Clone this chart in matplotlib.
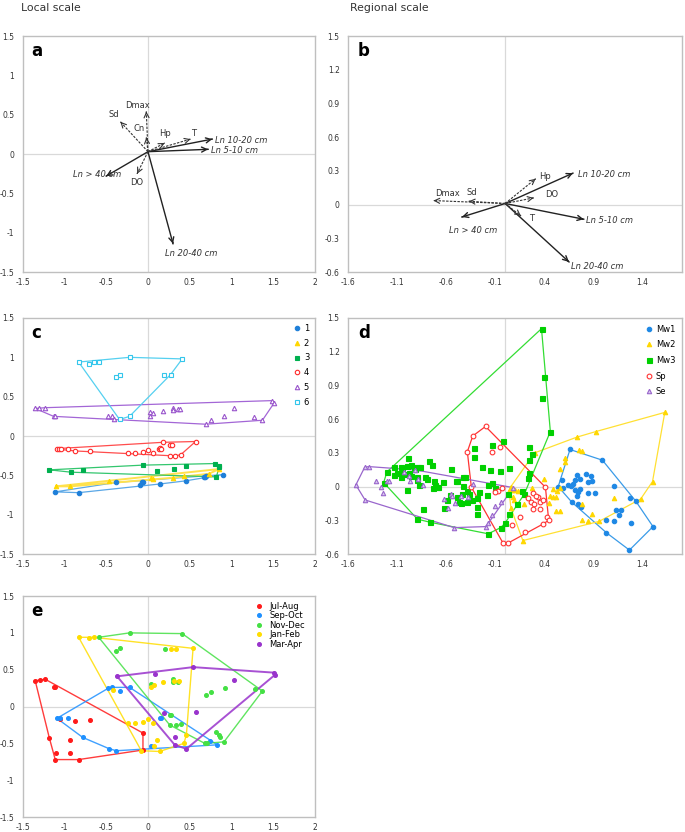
import numpy as np
import matplotlib
matplotlib.use('Agg')
import matplotlib.pyplot as plt

# ---- panel a: local scale loadings ----
a_names = ['Ln 10-20 cm', 'Ln 5-10 cm', 'Ln 20-40 cm', 'Ln > 40 cm', 'Dmax', 'Sd', 'Cn', 'Hp', 'T', 'DO']
a_x = [0.77, 0.72, 0.30, -0.50, -0.02, -0.33, -0.02, 0.20, 0.51, -0.13]
a_y = [0.19, 0.06, -1.14, -0.28, 0.54, 0.41, 0.21, 0.14, 0.19, -0.25]
a_dashed = [False, False, False, False, True, True, True, True, True, True]

# ---- panel b: regional scale loadings ----
b_names = ['Ln 10-20 cm', 'Ln 5-10 cm', 'Ln 20-40 cm', 'Ln > 40 cm', 'Hp', 'DO', 'T', 'Dmax', 'Sd']
b_x = [0.69, 0.80, 0.65, -0.44, 0.31, 0.29, 0.16, -0.73, -0.37]
b_y = [0.28, -0.13, -0.51, -0.11, 0.23, 0.06, -0.10, 0.036, 0.03]
b_dashed = [False, False, False, False, True, True, True, True, True]

# ---- panel c: sites 1-6 ----
c_labels = ['1', '2', '3', '4', '5', '6']
c1 = [(-1.11, -0.71), (-0.83, -0.72), (-0.38, -0.59), (-0.10, -0.62), (-0.07, -0.59), (-0.06, -0.58),
      (0.14, -0.61), (0.45, -0.57), (0.67, -0.52), (0.70, -0.51), (0.90, -0.49), (0.68, -0.52)]
c2 = [(-1.10, -0.64), (-0.93, -0.64), (-0.47, -0.57), (0.04, -0.54), (0.06, -0.55), (0.30, -0.53),
      (0.43, -0.51), (0.73, -0.48), (0.85, -0.42)]
c3 = [(-1.18, -0.43), (-0.92, -0.46), (-0.78, -0.43), (-0.06, -0.37), (0.11, -0.45), (0.31, -0.42),
      (0.46, -0.38), (0.80, -0.35), (0.85, -0.38), (0.85, -0.39), (0.82, -0.52)]
c4 = [(-1.09, -0.16), (-1.06, -0.17), (-1.04, -0.17), (-0.96, -0.16), (-0.87, -0.19), (-0.69, -0.19),
      (-0.24, -0.21), (-0.16, -0.21), (-0.06, -0.20), (0.00, -0.18), (0.06, -0.22), (0.13, -0.17),
      (0.14, -0.15), (0.16, -0.16), (0.18, -0.08), (0.26, -0.12), (0.29, -0.11), (0.26, -0.25),
      (0.32, -0.25), (0.39, -0.24), (0.57, -0.07)]
c5 = [(-1.35, 0.35), (-1.30, 0.35), (-1.23, 0.36), (-1.13, 0.25), (-1.11, 0.25), (-0.48, 0.25),
      (-0.43, 0.26), (-0.41, 0.21), (0.02, 0.31), (0.06, 0.29), (0.03, 0.25), (0.18, 0.32),
      (0.30, 0.36), (0.30, 0.33), (0.36, 0.34), (0.38, 0.34), (0.69, 0.15), (0.75, 0.20),
      (0.91, 0.25), (1.03, 0.35), (1.27, 0.24), (1.37, 0.20), (1.49, 0.45), (1.51, 0.42)]
c6 = [(-0.83, 0.94), (-0.70, 0.92), (-0.65, 0.94), (-0.59, 0.94), (-0.22, 1.00), (0.41, 0.98),
      (-0.38, 0.75), (-0.33, 0.78), (0.19, 0.78), (0.27, 0.78), (-0.34, 0.21), (-0.22, 0.25)]

# ---- panel d: regions ----
d_labels = ['Mw1', 'Mw2', 'Mw3', 'Sp', 'Se']
mw1 = [(0.66, 0.33), (0.99, 0.235), (0.58, 0.06), (0.59, -0.015), (0.64, 0.01), (0.67, 0.006),
       (0.69, 0.02), (0.71, 0.06), (0.735, 0.10), (0.76, 0.065), (0.825, 0.11), (0.87, 0.09),
       (0.88, 0.05), (0.84, 0.045), (0.76, -0.024), (0.715, -0.03), (0.74, -0.045), (0.73, -0.083),
       (0.84, -0.06), (0.91, -0.053), (0.68, -0.14), (0.745, -0.155), (0.77, -0.18), (1.11, 0.006),
       (1.27, -0.10), (1.33, -0.13), (1.13, -0.21), (1.18, -0.21), (1.16, -0.25), (1.03, -0.30),
       (1.11, -0.31), (1.285, -0.32), (1.505, -0.356), (1.03, -0.41), (1.265, -0.565), (0.54, 0.0)]
mw2 = [(1.625, 0.66), (0.925, 0.49), (0.73, 0.44), (0.756, 0.327), (0.78, 0.32), (0.605, 0.25),
       (0.61, 0.22), (0.557, 0.16), (0.395, 0.068), (0.557, -0.015), (0.49, -0.024), (0.53, -0.036),
       (0.275, -0.015), (0.196, -0.157), (0.454, -0.083), (0.49, -0.09), (0.515, -0.095),
       (0.447, -0.15), (0.515, -0.22), (0.557, -0.22), (0.78, -0.155), (0.883, -0.24), (0.78, -0.30),
       (0.84, -0.31), (0.955, -0.31), (1.11, -0.098), (1.38, -0.11), (1.50, 0.045), (0.18, -0.48),
       (0.058, 0.0), (0.04, -0.036), (0.07, -0.03), (0.10, -0.03), (0.127, -0.036), (0.076, -0.09),
       (0.058, -0.19), (0.086, -0.12), (0.30, 0.30)]
mw3 = [(0.37, 1.405), (0.40, 0.975), (0.375, 0.79), (0.46, 0.49), (0.247, 0.35), (0.275, 0.29),
       (0.24, 0.24), (-1.237, 0.036), (-1.203, 0.131), (-1.127, 0.172), (-1.065, 0.175), (-0.99, 0.255),
       (-1.05, 0.137), (-0.997, 0.184), (-0.955, 0.19), (-0.93, 0.172), (-0.914, 0.154), (-0.887, 0.172),
       (-0.87, 0.178), (-0.78, 0.23), (-0.74, 0.19), (-1.134, 0.104), (-1.10, 0.119), (-1.06, 0.083),
       (-1.024, 0.113), (-0.976, 0.119), (-0.962, 0.095), (-0.90, 0.089), (-0.893, 0.059), (-0.88, 0.018),
       (-0.818, 0.089), (-0.797, 0.065), (-0.72, 0.053), (-0.71, 0.018), (-0.735, -0.015), (-0.694, -0.006),
       (-0.68, 0.0), (-0.63, 0.045), (-0.997, -0.03), (-0.84, -0.196), (-0.893, -0.29), (-0.76, -0.318),
       (-0.55, 0.157), (-0.505, 0.048), (-0.49, 0.053), (-0.433, 0.083), (-0.405, 0.083), (-0.426, 0.006),
       (-0.44, -0.065), (-0.385, -0.036), (-0.37, -0.07), (-0.337, -0.12), (-0.285, -0.104), (-0.285, -0.178),
       (-0.285, -0.244), (-0.268, -0.045), (-0.24, 0.178), (-0.158, 0.149), (-0.13, 0.374), (-0.02, 0.407),
       (-0.055, 0.14), (0.041, 0.169), (-0.179, 0.018), (-0.137, 0.033), (0.024, -0.065), (-0.103, -0.012),
       (-0.186, -0.077), (-0.172, -0.42), (-0.045, -0.365), (-0.003, -0.327), (0.041, -0.244), (0.12, -0.154),
       (0.172, -0.039), (0.196, -0.065), (0.234, 0.074), (0.24, 0.119), (-0.59, -0.12), (-0.557, -0.074),
       (-0.62, -0.187), (-0.495, -0.089), (-0.474, -0.134), (-0.447, -0.148), (-0.385, -0.14),
       (-0.32, 0.347), (-0.316, 0.26)]
sp = [(-0.2, 0.535), (-0.33, 0.45), (-0.385, 0.31), (-0.13, 0.31), (-0.052, 0.356), (-0.344, -0.006),
      (-0.02, -0.505), (0.024, -0.505), (-0.07, -0.036), (-0.034, -0.012), (-0.10, -0.045), (0.07, -0.34),
      (0.155, -0.27), (0.206, -0.407), (0.237, -0.104), (0.265, -0.134), (0.28, -0.06), (0.289, -0.155),
      (0.333, -0.09), (0.357, -0.134), (0.39, -0.12), (0.35, -0.2), (0.28, -0.2), (0.41, -0.006),
      (0.426, -0.27), (0.443, -0.30), (0.385, -0.333), (0.316, -0.083)]
se = [(-1.52, 0.015), (-1.43, 0.172), (-1.39, 0.178), (-1.426, -0.119), (-1.31, 0.048), (-1.26, 0.0),
      (-1.247, -0.053), (-1.2, 0.053), (-1.18, 0.053), (-1.03, 0.13), (-0.976, 0.092), (-0.969, 0.048),
      (-0.914, 0.148), (-0.887, 0.071), (-0.832, 0.015), (-0.625, -0.113), (-0.577, -0.187),
      (-0.55, -0.068), (-0.543, -0.083), (-0.515, -0.148), (-0.454, -0.083), (-0.378, -0.095),
      (-0.519, -0.365), (-0.2, -0.356), (-0.172, -0.327), (-0.13, -0.252), (-0.103, -0.169),
      (-0.045, -0.14), (0.082, -0.009), (-0.33, 0.024)]

# ---- panel e: seasons ----
e_labels = ['Jul-Aug', 'Sep-Oct', 'Nov-Dec', 'Jan-Feb', 'Mar-Apr']
jul_aug = [(-1.35, 0.35), (-1.29, 0.36), (-1.23, 0.37), (-1.13, 0.26), (-1.11, 0.27), (-1.18, -0.43),
           (-1.10, -0.63), (-1.11, -0.72), (-0.83, -0.72), (-0.93, -0.63), (-0.93, -0.46), (-0.87, -0.19),
           (-0.69, -0.18), (-1.05, -0.17), (-0.06, -0.36), (-0.06, -0.59)]
sep_oct = [(-1.09, -0.16), (-1.05, -0.16), (-0.96, -0.15), (-0.78, -0.42), (-0.47, -0.57), (-0.38, -0.60),
           (-0.48, 0.245), (-0.43, 0.26), (-0.34, 0.21), (-0.22, 0.26), (0.04, -0.53), (0.14, -0.16),
           (0.16, -0.15), (0.74, -0.47), (0.83, -0.52)]
nov_dec = [(-0.59, 0.94), (-0.22, 1.00), (0.41, 0.99), (-0.38, 0.76), (-0.33, 0.79), (0.20, 0.775),
           (0.04, 0.31), (0.30, 0.37), (0.355, 0.335), (0.295, 0.335), (0.69, 0.15), (0.76, 0.20),
           (0.92, 0.25), (1.28, 0.235), (1.37, 0.21), (0.26, -0.12), (0.28, -0.12), (0.26, -0.25),
           (0.33, -0.25), (0.40, -0.235), (0.81, -0.35), (0.85, -0.38), (0.86, -0.41), (0.68, -0.50),
           (0.71, -0.49), (0.91, -0.48)]
jan_feb = [(-0.83, 0.94), (-0.70, 0.925), (-0.65, 0.94), (0.27, 0.775), (0.34, 0.775), (0.54, 0.79),
           (0.18, 0.33), (0.04, 0.26), (0.07, 0.29), (0.31, 0.34), (0.37, 0.35), (-0.415, 0.22),
           (0.00, -0.17), (-0.06, -0.21), (-0.16, -0.22), (-0.235, -0.22), (0.06, -0.22), (0.11, -0.45),
           (0.07, -0.54), (-0.08, -0.60), (0.14, -0.61), (0.43, -0.50), (0.46, -0.385)]
mar_apr = [(-0.37, 0.41), (0.09, 0.44), (0.54, 0.535), (1.51, 0.46), (1.52, 0.43), (1.03, 0.36),
           (0.57, -0.07), (0.19, -0.09), (0.32, -0.41), (0.32, -0.52), (0.46, -0.575)]

local_xticks = [-1.5, -1, -0.5, 0, 0.5, 1, 1.5, 2]
local_yticks = [-1.5, -1, -0.5, 0, 0.5, 1, 1.5]
reg_xticks = [-1.6, -1.1, -0.6, -0.1, 0.4, 0.9, 1.4]
reg_yticks = [-0.6, -0.3, 0, 0.3, 0.6, 0.9, 1.2, 1.5]


def hull(pts):
    p = sorted(set(pts))
    def cross(o, a, b):
        return (a[0] - o[0]) * (b[1] - o[1]) - (a[1] - o[1]) * (b[0] - o[0])
    lower, upper = [], []
    for q in p:
        while len(lower) >= 2 and cross(lower[-2], lower[-1], q) <= 0:
            lower.pop()
        lower.append(q)
    for q in reversed(p):
        while len(upper) >= 2 and cross(upper[-2], upper[-1], q) <= 0:
            upper.pop()
        upper.append(q)
    h = lower[:-1] + upper[:-1]
    h.append(h[0])
    return np.array(h)


def style_ax(ax, xlim, ylim, xticks, yticks, letter):
    ax.set_xlim(*xlim)
    ax.set_ylim(*ylim)
    ax.set_xticks(xticks)
    ax.set_yticks(yticks)
    ax.set_xticklabels(['%g' % t for t in xticks])
    ax.set_yticklabels(['%g' % t for t in yticks])
    ax.tick_params(length=0, labelsize=5.5, colors='#333333', pad=4)
    ax.tick_params(axis='y', pad=6)
    for s in ax.spines.values():
        s.set_color('#bfbfbf')
        s.set_linewidth(1.0)
    ax.axhline(0, color='#d9d9d9', lw=0.9, zorder=0)
    ax.axvline(0, color='#d9d9d9', lw=0.9, zorder=0)
    ax.text(0.03, 0.975, letter, transform=ax.transAxes, va='top', ha='left',
            fontsize=12, fontweight='bold')


def arrows(ax, xs, ys, dashed, origin):
    ox, oy = origin
    for x, y, d in zip(xs, ys, dashed):
        col = '#222222' if not d else '#333333'
        lw = 1.0 if not d else 0.8
        ax.plot([ox, x], [oy, y], '--' if d else '-', color=col, lw=lw,
                dashes=(2.2, 1.2) if d else (None, None))
        ax.annotate('', xy=(x, y), xytext=(x - 0.01 * (x - ox), y - 0.01 * (y - oy)),
                    arrowprops=dict(arrowstyle='->', color=col, lw=lw, shrinkA=0, shrinkB=0,
                                    mutation_scale=9))


fig = plt.figure(figsize=(6.85, 8.32), dpi=100)
ax_a = fig.add_axes([0.0331, 0.673, 0.4268, 0.2837])
ax_b = fig.add_axes([0.508, 0.673, 0.4876, 0.2837])
ax_c = fig.add_axes([0.0331, 0.3341, 0.4268, 0.2837])
ax_d = fig.add_axes([0.508, 0.3341, 0.4876, 0.2837])
ax_e = fig.add_axes([0.0331, 0.018, 0.4268, 0.2656])

fig.text(21 / 685, 1 - 8 / 832, 'Local scale', fontsize=7.8, va='center', color='#333333')
fig.text(350 / 685, 1 - 8 / 832, 'Regional scale', fontsize=7.8, va='center', color='#333333')

# panel a
style_ax(ax_a, (-1.5, 2), (-1.5, 1.5), local_xticks, local_yticks, 'a')
arrows(ax_a, a_x, a_y, a_dashed, (0, 0.03))
a_text = {'Ln 10-20 cm': (0.80, 0.17, 'left'), 'Ln 5-10 cm': (0.75, 0.045, 'left'),
          'Ln 20-40 cm': (0.52, -1.27, 'center'), 'Ln > 40 cm': (-0.32, -0.26, 'right'),
          'Dmax': (-0.12, 0.62, 'center'), 'Sd': (-0.41, 0.50, 'center'), 'Cn': (-0.10, 0.33, 'center'),
          'Hp': (0.20, 0.26, 'center'), 'T': (0.55, 0.26, 'center'), 'DO': (-0.14, -0.36, 'center')}
for n in a_names:
    tx, ty, ha = a_text[n]
    ax_a.text(tx, ty, n, fontsize=6, ha=ha, va='center', color='#333333',
              style='italic' if n.startswith('Ln') else 'normal')

# panel b
style_ax(ax_b, (-1.6, 1.8), (-0.6, 1.5), reg_xticks, reg_yticks, 'b')
arrows(ax_b, b_x, b_y, b_dashed, (0, 0.01))
b_text = {'Ln 10-20 cm': (0.74, 0.27, 'left'), 'Ln 5-10 cm': (0.82, -0.14, 'left'),
          'Ln 20-40 cm': (0.67, -0.55, 'left'), 'Ln > 40 cm': (-0.33, -0.23, 'center'),
          'Hp': (0.41, 0.25, 'center'), 'DO': (0.47, 0.09, 'center'), 'T': (0.27, -0.12, 'center'),
          'Dmax': (-0.59, 0.10, 'center'), 'Sd': (-0.34, 0.11, 'center')}
for n in b_names:
    tx, ty, ha = b_text[n]
    ax_b.text(tx, ty, n, fontsize=6, ha=ha, va='center', color='#333333',
              style='italic' if n.startswith('Ln') else 'normal')

# panel c
style_ax(ax_c, (-1.5, 2), (-1.5, 1.5), local_xticks, local_yticks, 'c')
c_groups = [c1, c2, c3, c4, c5, c6]
c_cols = ['#1e7fd9', '#ffd700', '#00b04f', '#ff2a2a', '#9955cc', '#33c6ec']
c_line = ['#5aa7e6', '#ffe14d', '#33c66e', '#ff4d4d', '#a366d6', '#55d0f0']
c_mark = ['o', '^', 's', 'o', '^', 's']
c_fill = [True, True, True, False, False, False]
c_lw = [0.9, 1.4, 0.9, 0.9, 0.9, 0.9]
for g, lab, col, lc, m, f, lw in zip(c_groups, c_labels, c_cols, c_line, c_mark, c_fill, c_lw):
    h = hull(g)
    ax_c.plot(h[:, 0], h[:, 1], color=lc, lw=lw, zorder=2)
    pts = np.array(g)
    ax_c.plot(pts[:, 0], pts[:, 1], m, ls='none', ms=3.2, mec=col, mew=0.8,
              mfc=col if f else 'white', zorder=3, label=lab)
ax_c.legend(loc='upper right', frameon=False, fontsize=6, handlelength=0.8, handletextpad=0.4,
            labelspacing=0.7, borderaxespad=0.3)

# panel d
style_ax(ax_d, (-1.6, 1.8), (-0.6, 1.5), reg_xticks, reg_yticks, 'd')
d_groups = [mw1, mw2, mw3, sp, se]
d_cols = ['#1e88e5', '#ffd700', '#00d000', '#ff3333', '#9966cc']
d_line = ['#3a9be8', '#ffe033', '#33dd33', '#ff3333', '#9966cc']
d_mark = ['o', '^', 's', 'o', '^']
d_fc = ['#1e88e5', '#ffd700', '#00d000', 'white', '#d9c8ee']
d_ms = [3.2, 3.2, 3.6, 3.4, 3.2]
for g, lab, col, lc, m, fc, ms in zip(d_groups, d_labels, d_cols, d_line, d_mark, d_fc, d_ms):
    h = hull(g)
    ax_d.plot(h[:, 0], h[:, 1], color=lc, lw=0.9, zorder=2)
    pts = np.array(g)
    ax_d.plot(pts[:, 0], pts[:, 1], m, ls='none', ms=ms, mec=col, mew=0.8, mfc=fc,
              zorder=3, label=lab)
ax_d.legend(loc='upper right', frameon=False, fontsize=6, handlelength=0.8, handletextpad=0.4,
            labelspacing=0.8, borderaxespad=0.4)

# panel e
style_ax(ax_e, (-1.5, 2), (-1.5, 1.5), local_xticks, local_yticks, 'e')
e_groups = [jul_aug, sep_oct, nov_dec, jan_feb, mar_apr]
e_cols = ['#ff1a1a', '#1e90ff', '#44e044', '#ffdd00', '#9933cc']
e_lw = [1.0, 1.0, 1.0, 1.0, 1.4]
for g, lab, col, lw in zip(e_groups, e_labels, e_cols, e_lw):
    h = hull(g)
    ax_e.plot(h[:, 0], h[:, 1], color=col, lw=lw, alpha=0.85, zorder=2)
    pts = np.array(g)
    ax_e.plot(pts[:, 0], pts[:, 1], 'o', ls='none', ms=2.6, mec=col, mfc=col, zorder=3, label=lab)
ax_e.legend(loc='upper right', frameon=False, fontsize=6, handlelength=0.8, handletextpad=0.8,
            labelspacing=0.05, borderaxespad=0.3, bbox_to_anchor=(0.985, 1.0))

fig.savefig('out.png', dpi=100)
